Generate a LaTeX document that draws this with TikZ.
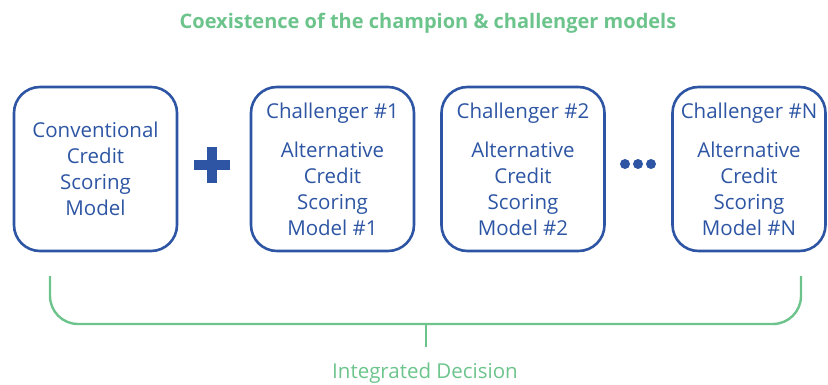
\documentclass[tikz,border=0pt]{standalone}
\usepackage{fontspec}
\setmainfont{Open Sans}
\definecolor{cblue}{HTML}{2D55A3}
\definecolor{cgreen}{HTML}{6CC48C}
\begin{document}
\begin{tikzpicture}[x=1pt,y=-1pt,
  modelbox/.style={draw=cblue, line width=2.6pt, rounded corners=26pt, minimum width=163pt, minimum height=164pt, inner sep=0pt,
    text=cblue, align=center, font=\fontsize{20.5}{26}\selectfont},
  greenline/.style={draw=cgreen, line width=2.4pt},
]
\useasboundingbox (0,0) rectangle (828,385);
\node[text=cgreen, font=\bfseries\fontsize{20}{22}\selectfont] (title) at (428,23) {Coexistence of the champion \& challenger models};
\node[modelbox] (champ) at (95.5,169) {Conventional\\Credit\\Scoring\\Model};
\node[modelbox] (c1) at (332.5,169) {Challenger \#1\\[13pt]Alternative\\Credit\\Scoring\\Model \#1};
\node[modelbox] (c2) at (523,169) {Challenger \#2\\[13pt]Alternative\\Credit\\Scoring\\Model \#2};
\node[modelbox, minimum width=153pt] (cn) at (749,169) {Challenger \#N\\[13pt]Alternative\\Credit\\Scoring\\Model \#N};
% plus sign
\node[fill=cblue, minimum width=36pt, minimum height=10.5pt, inner sep=0pt] (plush) at (212,165) {};
\node[fill=cblue, minimum width=10.5pt, minimum height=36pt, inner sep=0pt] (plusv) at (212,165) {};
% dots
\foreach \i/\xx in {1/625,2/638,3/651} \node[circle, fill=cblue, minimum size=10pt, inner sep=0pt] (dot\i) at (\xx,164) {};
% bracket
\coordinate (bl) at (50,276);
\coordinate (br) at (801,276);
\coordinate (bm) at (426,324);
\coordinate (bt) at (426,347);
\draw[greenline, rounded corners=28pt] (bl) -- (bl |- bm) -- (br |- bm) -- (br);
\draw[greenline] (bm) -- (bt);
\node[text=cgreen, font=\fontsize{20.5}{22}\selectfont] (decision) at (425,373) {Integrated Decision};
\end{tikzpicture}
\end{document}
